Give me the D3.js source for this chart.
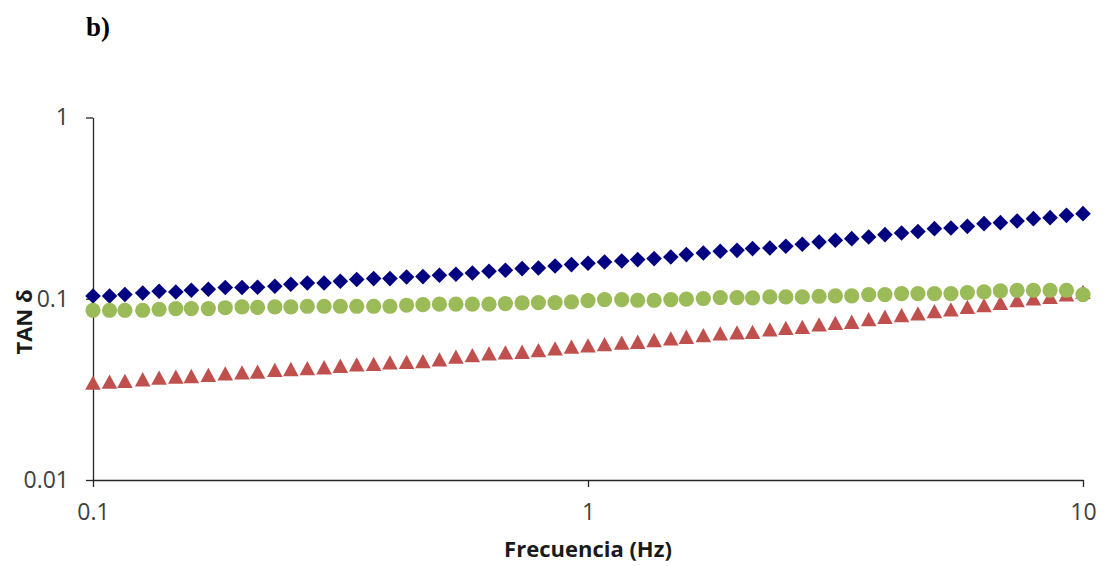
<!DOCTYPE html>
<html>
<head>
<meta charset="utf-8">
<script src="https://cdn.jsdelivr.net/npm/d3@7"></script>
<style>
  html, body { margin: 0; padding: 0; background: #fff; }
  svg { display: block; }
  .tick text { font-family: "Open Sans", sans-serif; font-size: 23px; fill: #404040; }
  .axis-title { font-family: "Open Sans", sans-serif; font-weight: bold; font-size: 22px; fill: #1a1a1a; }
</style>
</head>
<body>
<div id="chart"></div>
<script>
// frequency sweep (Hz)
const frecuencia = [
  0.1, 0.108, 0.116, 0.126, 0.136, 0.147, 0.158, 0.171, 0.185, 0.2,
  0.215, 0.233, 0.251, 0.271, 0.293, 0.316, 0.341, 0.369, 0.398, 0.43,
  0.464, 0.501, 0.541, 0.584, 0.631, 0.681, 0.736, 0.794, 0.858, 0.926,
  1, 1.08, 1.17, 1.26, 1.36, 1.47, 1.58, 1.71, 1.85, 2,
  2.15, 2.33, 2.51, 2.71, 2.93, 3.16, 3.41, 3.69, 3.98, 4.3,
  4.64, 5.01, 5.41, 5.84, 6.31, 6.81, 7.36, 7.94, 8.58, 9.26, 10
];

// tan delta, blue diamonds
const tanAzul = [
  0.1036, 0.1036, 0.1055, 0.1076, 0.1100, 0.1090, 0.1114, 0.1128, 0.1153, 0.1153,
  0.1157, 0.1172, 0.1202, 0.1222, 0.1222, 0.1249, 0.1276, 0.1292, 0.1292, 0.1318,
  0.1325, 0.1347, 0.1365, 0.1387, 0.1417, 0.1435, 0.1467, 0.1478, 0.1516, 0.1543,
  0.1569, 0.1595, 0.1615, 0.1644, 0.1665, 0.1699, 0.1752, 0.1788, 0.1827, 0.1850,
  0.1891, 0.1905, 0.1947, 0.1997, 0.2056, 0.2101, 0.2146, 0.2190, 0.2258, 0.2304,
  0.2349, 0.2436, 0.2455, 0.2508, 0.2596, 0.2630, 0.2684, 0.2767, 0.2802, 0.2885, 0.2947
];

// tan delta, red triangles
const tanRojo = [
  0.0344, 0.0348, 0.0352, 0.0359, 0.0366, 0.0371, 0.0374, 0.0379, 0.0387, 0.0392,
  0.0395, 0.0404, 0.0409, 0.0413, 0.0418, 0.0426, 0.0434, 0.0436, 0.0445, 0.0448,
  0.0452, 0.0462, 0.0478, 0.0488, 0.0499, 0.0505, 0.0509, 0.0520, 0.0532, 0.0543,
  0.0552, 0.0561, 0.0571, 0.0578, 0.0591, 0.0604, 0.0616, 0.0629, 0.0643, 0.0651,
  0.0656, 0.0677, 0.0690, 0.0699, 0.0721, 0.0735, 0.0745, 0.0771, 0.0794, 0.0811,
  0.0829, 0.0853, 0.0872, 0.0901, 0.0921, 0.0948, 0.0981, 0.1003, 0.1023, 0.1055, 0.1090
];

// tan delta, green circles
const tanVerde = [
  0.0864, 0.0864, 0.0864, 0.0864, 0.0875, 0.0883, 0.0883, 0.0883, 0.0892, 0.0901,
  0.0897, 0.0901, 0.0901, 0.0909, 0.0909, 0.0909, 0.0909, 0.0909, 0.0909, 0.0921,
  0.0927, 0.0933, 0.0933, 0.0933, 0.0933, 0.0941, 0.0948, 0.0953, 0.0953, 0.0960,
  0.0977, 0.0990, 0.0990, 0.0981, 0.0981, 0.0990, 0.0994, 0.1003, 0.1015, 0.1015,
  0.1012, 0.1023, 0.1023, 0.1023, 0.1032, 0.1036, 0.1036, 0.1055, 0.1055, 0.1068,
  0.1068, 0.1068, 0.1068, 0.1082, 0.1090, 0.1104, 0.1114, 0.1114, 0.1114, 0.1114, 0.1055
];

const xTicks = [0.1, 1, 10];
const xTickLabels = ['0.1', '1', '10'];
const yTicks = [0.01, 0.1, 1];
const yTickLabels = ['0.01', '0.1', '1'];

const width = 1104, height = 566;
const margin = { top: 117.5, right: 21, bottom: 86, left: 93 };

const svg = d3.select('#chart').append('svg')
  .attr('width', width)
  .attr('height', height);

const x = d3.scaleLog()
  .domain([0.1, 10])
  .range([margin.left, width - margin.right]);

const y = d3.scaleLog()
  .domain([0.01, 1])
  .range([height - margin.bottom, margin.top]);

// panel letter
svg.append('text')
  .attr('x', 86)
  .attr('y', 36)
  .style('font-family', '"Liberation Serif", "Times New Roman", serif')
  .style('font-weight', 'bold')
  .style('font-size', '27px')
  .text('b)');

// axes
const xAxis = svg.append('g')
  .attr('transform', `translate(0,${height - margin.bottom})`)
  .call(d3.axisBottom(x)
    .tickValues(xTicks)
    .tickFormat((d, i) => xTickLabels[i])
    .tickSizeInner(7)
    .tickSizeOuter(0)
    .tickPadding(17));

const yAxis = svg.append('g')
  .attr('transform', `translate(${margin.left},0)`)
  .call(d3.axisLeft(y)
    .tickValues(yTicks)
    .tickFormat((d, i) => yTickLabels[i])
    .tickSizeInner(7)
    .tickSizeOuter(0)
    .tickPadding(17));

[xAxis, yAxis].forEach(g => {
  g.select('.domain').attr('stroke', '#262626').attr('stroke-width', 1.3);
  g.selectAll('.tick line').attr('stroke', '#262626').attr('stroke-width', 1.3);
});

// axis titles
svg.append('text')
  .attr('class', 'axis-title')
  .attr('x', (margin.left + width - margin.right) / 2)
  .attr('y', 557)
  .attr('text-anchor', 'middle')
  .text('Frecuencia (Hz)');

svg.append('text')
  .attr('class', 'axis-title')
  .attr('transform', 'translate(32,322) rotate(-90)')
  .attr('text-anchor', 'middle')
  .text('TAN δ');

// marker shapes (centred on their bounding box, like the spreadsheet markers)
const diamond = 'M0,-7.8L7.8,0L0,7.8L-7.8,0Z';
const triangle = 'M0,-7.3L7.8,7L-7.8,7Z';

const series = [
  { name: 'azul', values: tanAzul, color: '#000080', shape: 'diamond' },
  { name: 'rojo', values: tanRojo, color: '#C0504D', shape: 'triangle' },
  { name: 'verde', values: tanVerde, color: '#9BBB59', shape: 'circle' }
];

series.forEach(s => {
  const pts = frecuencia.map((f, i) => ({ f, v: s.values[i] }));
  const g = svg.append('g').attr('class', 'serie-' + s.name);
  if (s.shape === 'circle') {
    g.selectAll('circle')
      .data(pts)
      .enter()
      .append('circle')
      .attr('cx', d => x(d.f))
      .attr('cy', d => y(d.v))
      .attr('r', 7.6)
      .attr('fill', s.color);
  } else {
    g.selectAll('path')
      .data(pts)
      .enter()
      .append('path')
      .attr('d', s.shape === 'diamond' ? diamond : triangle)
      .attr('transform', d => `translate(${x(d.f)},${y(d.v)})`)
      .attr('fill', s.color);
  }
});
</script>
</body>
</html>
